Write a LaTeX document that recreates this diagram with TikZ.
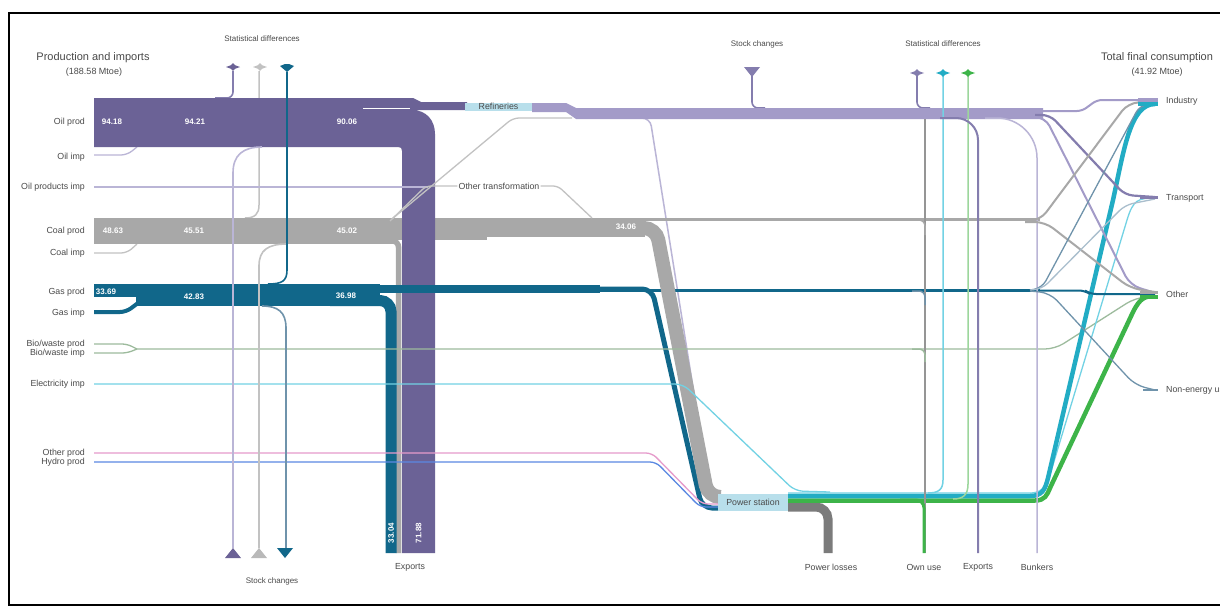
\documentclass[tikz,border=0pt]{standalone}
\usepackage{fontspec}
\setmainfont{Liberation Sans}
\definecolor{oil}{HTML}{6B6296}
\definecolor{oillt}{HTML}{A39BC8}
\definecolor{oilln}{HTML}{BAB5D6}
\definecolor{oildk}{HTML}{847DAE}
\definecolor{coal}{HTML}{A8A8A8}
\definecolor{coalln}{HTML}{C2C2C2}
\definecolor{gas}{HTML}{11678A}
\definecolor{gasln}{HTML}{6F93AB}
\definecolor{bio}{HTML}{9DBB9D}
\definecolor{elec}{HTML}{72D2E4}
\definecolor{elecb}{HTML}{22ACC4}
\definecolor{grn}{HTML}{3DB449}
\definecolor{grnln}{HTML}{9CD69C}
\definecolor{pinkl}{HTML}{E69BCB}
\definecolor{hydro}{HTML}{5B88E2}
\definecolor{boxc}{HTML}{B8DFEB}
\definecolor{loss}{HTML}{7B7B7B}
\definecolor{txt}{HTML}{4A4A4A}
\newcommand\mkdiam[3]{\fill[#1,shift={(#2,#3)}] (-7,0) -- (-2,-1.8) -- (0,-4) -- (2,-1.8) -- (7,0) -- (2,1.8) -- (0,4) -- (-2,1.8) -- cycle;}
\newcommand\mkup[3]{\fill[#1] (#2-8,#3+5) -- (#2+8,#3+5) -- (#2,#3-5) -- cycle;}
\newcommand\mkdown[3]{\fill[#1] (#2-8,#3-5) -- (#2+8,#3-5) -- (#2,#3+5) -- cycle;}
\newcommand\mkdsm[3]{\fill[#1,shift={(#2,#3)}] (-7,-1) -- (-2,-3) -- (2,-3) -- (7,-1) -- (0,5) -- cycle;}
\begin{document}
\begin{tikzpicture}[x=1pt,y=-1pt,
  lbl/.style={font=\fontsize{8.8}{10}\selectfont, text=txt, inner sep=1pt},
  sm/.style={font=\fontsize{8}{9}\selectfont, text=txt, inner sep=1pt},
  hdr/.style={font=\fontsize{11}{12}\selectfont, text=txt, inner sep=1pt},
  sub/.style={font=\fontsize{9}{10}\selectfont, text=txt, inner sep=1pt},
  val/.style={font=\bfseries\fontsize{8}{9}\selectfont, text=white, inner sep=1pt},
  ln/.style={line width=1.3}]
\useasboundingbox (0,0) rectangle (1220,608);
\fill[white] (0,0) rectangle (1220,608);
\draw[line width=1.4] (1222,13) -- (9,13) -- (9,605) -- (1222,605);

% headers
\node[hdr] (pi) at (93,58) {Production and imports};
\node[sub] (pim) at (94,72) {(188.58 Mtoe)};
\node[sm] (sd1) at (262,39) {Statistical differences};
\node[sm] (sc1) at (272,581) {Stock changes};
\node[sm] (sc2) at (757,44) {Stock changes};
\node[sm] (sd2) at (943,44) {Statistical differences};
\node[hdr] (tfc) at (1157,58) {Total final consumption};
\node[sub] (tfcm) at (1157,72) {(41.92 Mtoe)};

% left labels
\foreach \t/\y in {{Oil prod}/122,{Oil imp}/157,{Oil products imp}/187,{Coal prod}/231,{Coal imp}/253,{Gas prod}/292,{Gas imp}/313,{Bio/waste prod}/344,{Bio/waste imp}/353,{Electricity imp}/384,{Other prod}/453,{Hydro prod}/462}
  \node[lbl, anchor=east] at (86,\y) {\t};

% lines under bands
\draw[oildk, line width=1.6, rounded corners=6] (233,71) -- (233,98) -- (215,98);
\draw[coalln, line width=1.5] (259,71) -- (259,205) .. controls (259,214) and (255,218) .. (245,218);
\draw[oilln, ln, rounded corners=6] (94,155) -- (127,155) -- (137,147);
\draw[coalln, ln, rounded corners=6] (94,253) -- (127,253) -- (137,244);
\draw[gas, line width=4, rounded corners=6] (94,312) -- (126,312) -- (138,303);
\draw[oildk, line width=1.6, rounded corners=6] (752,76) -- (752,108) -- (765,108);
\draw[oildk, line width=1.6, rounded corners=6] (917,76) -- (917,108) -- (930,108);
\draw[oilln, line width=1.5, rounded corners=8] (630,118) -- (650,118) -- (710,494) -- (718,494);

% coal band
\fill[coal] (94,218) rectangle (396,244);
\fill[coal] (396,218) rectangle (487,240);
\fill[coal] (487,218) rectangle (645,237);
\draw[coal, line width=5.5, rounded corners=6] (385,241) -- (398.5,241) -- (398.5,553);
\draw[coal, line width=2.5] (640,219.5) -- (1040,219.5);

% oil band
\fill[oil] (94,98) -- (413,98) -- (421,102) -- (467,102) -- (467,110) -- (412,110)
  .. controls (426,110) and (435,120) .. (435,134) -- (435,553) -- (402,553) -- (402,151)
  .. controls (402,148) and (401,147) .. (398,147) -- (94,147) -- cycle;
\draw[white, line width=0.6] (363,108.5) -- (410,108.5);
\fill[oillt] (532,103) -- (566,103) -- (576,108) -- (1043,108) -- (1043,119) -- (576,119) -- (566,112) -- (532,112) -- cycle;
\fill[boxc] (465,102.5) rectangle (532,111);
\node[lbl] (ref) at (498.5,106.5) {Refineries};

% gas band
\fill[gas] (94,284) rectangle (136,297);
\fill[gas] (136,284) rectangle (380,306);
\draw[gas, line width=11, rounded corners=11] (330,300.5) -- (391,300.5) -- (391,553);
\draw[gas, line width=8] (340,289) -- (600,289);
\draw[gas, line width=5, rounded corners=10] (590,289) -- (652,289) -- (702,508) -- (718,508);
\draw[gas, line width=3] (600,290.5) -- (1040,290.5);

% coal to power station
\draw[coal, line width=14, rounded corners=12] (600,228) -- (656,228) -- (708,497) -- (718,497);

% values
\node[val] at (112,122) {94.18};
\node[val] at (195,122) {94.21};
\node[val] at (347,122) {90.06};
\node[val] at (113,231) {48.63};
\node[val] at (194,231) {45.51};
\node[val] at (347,231) {45.02};
\node[val] at (626,227) {34.06};
\node[val] at (106,292) {33.69};
\node[val] at (194,297) {42.83};
\node[val] at (346,296) {36.98};
\node[val, rotate=90] at (391,533) {33.04};
\node[val, rotate=90] at (418.5,533) {71.88};

% other transformation
\node[lbl] (otr) at (499,186) {Other transformation};
\draw[oilln, ln] (94,187) -- (428,187);
\draw[coalln, ln, rounded corners=5] (390,221) -- (426,186) -- (otr.west);
\draw[coalln, ln, rounded corners=5] (otr.east) -- (558,186) -- (592,218);
\draw[coalln, ln, rounded corners=6] (392,219) -- (513,118) -- (572,118);

% horizontal thin lines
\draw[bio, ln, rounded corners=5] (94,344) -- (127,344) -- (137,349);
\draw[bio, ln, rounded corners=5] (94,353) -- (127,353) -- (137,349);
\draw[bio, ln, rounded corners=10] (137,349) -- (1055,349) -- (1135,298) -- (1155,296);
\draw[elec, ln, rounded corners=8] (94,384) -- (683,384) -- (795,491) -- (830,492);
\draw[pinkl, ln, rounded corners=6] (94,453) -- (652,453) -- (702,504) -- (718,504);
\draw[hydro, ln, rounded corners=6] (94,462) -- (656,462) -- (700,507) -- (718,507);

% left verticals
\draw[oilln, line width=1.6] (262,147) .. controls (243,147) and (233,155) .. (233,173) -- (233,548);
\draw[coalln, line width=1.6] (287,244) .. controls (268,244) and (259,250) .. (259,266) -- (259,548);
\draw[gas, line width=1.6] (287,72) -- (287,270) .. controls (287,281) and (282,284) .. (268,284);
\draw[gasln, line width=1.6] (262,306) .. controls (278,306) and (286,312) .. (286,328) -- (286,548);
\mkdiam{oil}{233}{67}
\mkdiam{coalln}{260}{67}
\mkdsm{gas}{287}{67}
\mkup{oil}{233}{553}
\mkup{coal!80}{259}{553}
\mkdown{gas}{285}{553}

% power station and outputs
\draw[loss, line width=9, rounded corners=12] (788,507) -- (828,507) -- (828,553);
\draw[grn, line width=4.5] (788,500.5) -- (1035,500.5) .. controls (1045,500.5) and (1047,495) .. (1050,488) -- (1133,312) .. controls (1140,298) and (1145,296) .. (1155,296);
\draw[elec, line width=1.3] (788,493) -- (1030,493) .. controls (1045,493) and (1048,482) .. (1052,468) -- (1127,220) .. controls (1133,200) and (1138,198) .. (1155,198);
\draw[elecb, line width=4.5] (788,496) -- (1030,496) .. controls (1042,496) and (1045,490) .. (1048,478) -- (1113,200) .. controls (1124,150) and (1130,104) .. (1155,104);
\fill[boxc] (718,493.5) rectangle (788,510.5);
\node[lbl] (ps) at (753,502) {Power station};

% right verticals
\draw[loss!80, line width=1.8] (925,119) -- (925,553);
\draw[coal, line width=1.5, rounded corners=6] (912,220) -- (925,220) -- (925,235);
\draw[gasln, line width=1.5, rounded corners=6] (912,291) -- (925,291) -- (925,305);
\draw[bio, line width=1.5, rounded corners=6] (912,349) -- (925,349) -- (925,362);
\draw[grn, line width=3, rounded corners=8] (900,500) -- (924,500) -- (924,553);
\draw[elec, line width=1.5] (943,76) -- (943,480) .. controls (943,490) and (938,493) .. (928,493);
\draw[grnln, line width=1.5] (968,76) -- (968,484) .. controls (968,495) and (963,499) .. (953,499);
\draw[oildk, line width=2, rounded corners=22] (940,118) -- (978,118) -- (978,553);
\draw[oilln, line width=1.5, rounded corners=40] (985,118) -- (1037,118) -- (1037,553);
\mkdown{oildk}{752}{72}
\mkdiam{oildk}{917}{73}
\mkdiam{elecb}{943}{73}
\mkdiam{grn}{968}{73}

% right fan
\draw[oillt, line width=2, rounded corners=5] (1040,111) -- (1082,111) -- (1097,100) -- (1155,100);
\draw[oildk, line width=2.2, rounded corners=8] (1035,115) -- (1050,115) -- (1125,195) -- (1155,197);
\draw[oillt, line width=2, rounded corners=10] (1035,117) -- (1045,117) -- (1130,285) -- (1155,293);
\draw[coal, line width=2, rounded corners=10] (1025,220.5) -- (1040,220.5) -- (1128,103) -- (1155,101.5);
\draw[coal, line width=2, rounded corners=10] (1025,222) -- (1045,222) -- (1130,288) -- (1155,292);
\draw[gas, line width=2, rounded corners=6] (1040,290.5) -- (1085,290.5) -- (1090,294) -- (1155,294);
\draw[gasln, line width=1.3, rounded corners=8] (1030,290) -- (1042,288) -- (1140,105) -- (1155,104);
\draw[gasln!60, line width=1.3, rounded corners=8] (1030,290) -- (1042,289) -- (1125,205) -- (1155,199);
\draw[gasln, line width=1.3, rounded corners=10] (1030,291) -- (1050,293) -- (1135,385) -- (1155,390);

% sink bars
\draw[oillt, line width=4] (1138,100) -- (1158,100);
\draw[elecb, line width=4] (1138,104) -- (1158,104);
\draw[oildk, line width=3] (1140,197.5) -- (1158,197.5);
\draw[coal, line width=3] (1140,292) -- (1158,292);
\draw[grn, line width=4] (1140,296.5) -- (1158,296.5);
\draw[gasln, line width=1.5] (1143,390) -- (1158,390);

% right labels
\node[lbl, anchor=west] (ind) at (1165,101) {Industry};
\node[lbl, anchor=west] (trn) at (1165,198) {Transport};
\node[lbl, anchor=west] (oth) at (1165,294) {Other};
\node[lbl, anchor=west] (neu) at (1165,390) {Non-energy use};

% bottom labels
\node[lbl] (ex1) at (410,567) {Exports};
\node[lbl] (pl) at (831,567) {Power losses};
\node[lbl] (ou) at (924,567) {Own use};
\node[lbl] (ex2) at (978,567) {Exports};
\node[lbl] (bk) at (1037,567) {Bunkers};
\end{tikzpicture}
\end{document}
